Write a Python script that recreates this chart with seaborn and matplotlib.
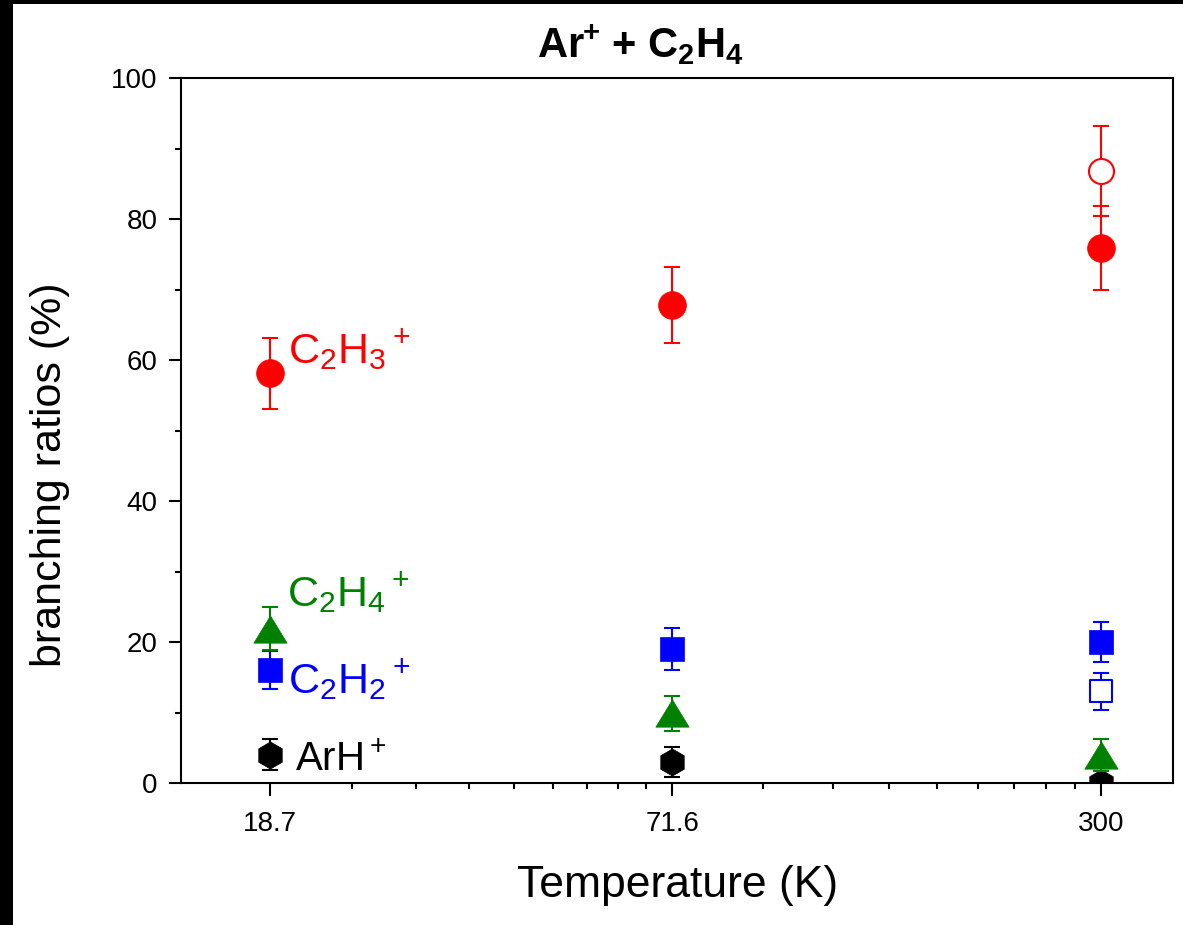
import numpy as np
import pandas as pd
import matplotlib
matplotlib.use('Agg')
import matplotlib.pyplot as plt
import seaborn as sns
from matplotlib.patches import Rectangle
from matplotlib.path import Path
from matplotlib.ticker import FixedLocator, FixedFormatter, NullFormatter

# ---------------- data ----------------
temps = [18.7, 71.6, 300]
temp_labels = ['18.7', '71.6', '300']

c2h3 = [58.1, 67.8, 75.9]
c2h3_err = [5.0, 5.4, 5.9]
c2h3_open_T = [300]
c2h3_open = [86.8]
c2h3_open_err = [6.4]

c2h2 = [16.0, 19.0, 20.0]
c2h2_err = [2.7, 3.0, 2.9]
c2h2_open_T = [300]
c2h2_open = [13.0]
c2h2_open_err = [2.6]

c2h4 = [21.9, 9.9, 4.0]
c2h4_err = [3.0, 2.5, 2.3]

arh = [4.0, 3.0, 0.0]
arh_err = [2.2, 2.1, 1.7]

yticks_major = [0, 20, 40, 60, 80, 100]
yticks_minor = [10, 30, 50, 70, 90]

# ---------------- style ----------------
sns.set_theme(style='white')
plt.rcParams['font.family'] = ['Liberation Sans', 'DejaVu Sans']
plt.rcParams['mathtext.fontset'] = 'custom'
plt.rcParams['mathtext.rm'] = 'Liberation Sans'
plt.rcParams['mathtext.it'] = 'Liberation Sans:italic'
plt.rcParams['mathtext.bf'] = 'Liberation Sans:bold'
plt.rcParams['mathtext.default'] = 'regular'

W, H = 1183, 925
fig = plt.figure(figsize=(W / 100, H / 100), dpi=100)
fig.patch.set_facecolor('white')
fig.add_artist(Rectangle((0, 0), 13 / W, 1, transform=fig.transFigure,
                         facecolor='black', edgecolor='none', zorder=-5))
fig.add_artist(Rectangle((0, 1 - 4 / H), 1, 4 / H, transform=fig.transFigure,
                         facecolor='black', edgecolor='none', zorder=-5))

ax = fig.add_axes([181 / W, 1 - 783 / H, (1173 - 181) / W, (783 - 78) / H])
ax.set_facecolor('white')
ax.set_xscale('log')

RED, BLUE, GREEN, BLACK = '#FF0000', '#0000FF', '#008000', '#000000'
tri = Path([(0, 0.82), (-1, -0.82), (1, -0.82), (0, 0.82)],
           [Path.MOVETO, Path.LINETO, Path.LINETO, Path.CLOSEPOLY])


def series(x, y, e, color, marker, ms, filled=True, z=3):
    ax.errorbar(x, y, yerr=e, fmt='none', ecolor=color, elinewidth=1.5,
                capsize=5.6, capthick=1.5, zorder=z)
    df = pd.DataFrame({'T': x, 'v': y})
    sns.scatterplot(data=df, x='T', y='v', ax=ax, marker=marker, s=ms ** 2,
                    color=color if filled else 'white', edgecolor=color,
                    linewidth=1.5 if not filled else 0.5, zorder=z + 0.5,
                    legend=False)


series(temps, arh, arh_err, BLACK, 'h', 19.5, z=3)
series(temps, c2h2, c2h2_err, BLUE, 's', 17, z=4)
series(c2h2_open_T, c2h2_open, c2h2_open_err, BLUE, 's', 16, filled=False, z=4)
series(temps, c2h4, c2h4_err, GREEN, tri, 24, z=5)
series(temps, c2h3, c2h3_err, RED, 'o', 20, z=6)
series(c2h3_open_T, c2h3_open, c2h3_open_err, RED, 'o', 18, filled=False, z=6)

ax.set_xlim(13.9, 381)
ax.set_ylim(0, 100)

# ticks
ax.xaxis.set_major_locator(FixedLocator(temps))
ax.xaxis.set_major_formatter(FixedFormatter(temp_labels))
minor = np.concatenate([np.linspace(temps[i], temps[i + 1], 10)[1:-1]
                        for i in range(len(temps) - 1)])
ax.xaxis.set_minor_locator(FixedLocator(minor))
ax.xaxis.set_minor_formatter(NullFormatter())
ax.set_yticks(yticks_major)
ax.set_yticks(yticks_minor, minor=True)

ax.tick_params(axis='both', which='major', direction='out', length=9, width=1.5,
               labelsize=20, color='black', labelcolor='black',
               bottom=True, left=True, top=False, right=False)
ax.tick_params(axis='both', which='minor', direction='out', length=4.5, width=1.5,
               color='black', bottom=True, left=True, top=False, right=False)
ax.tick_params(axis='y', which='major', pad=8)
ax.tick_params(axis='x', which='major', pad=11)
for s in ax.spines.values():
    s.set_visible(True)
    s.set_color('black')
    s.set_linewidth(1.5)
ax.set_xlabel('')
ax.set_ylabel('')

# labels on the data
ax.annotate(r'C$_2$H$_3$$^+$', xy=(temps[0], c2h3[0]), xytext=(13, 7),
            textcoords='offset points', color=RED, fontsize=31,
            ha='left', va='baseline')
ax.annotate(r'C$_2$H$_4$$^+$', xy=(temps[0], c2h4[0]), xytext=(12, 16),
            textcoords='offset points', color=GREEN, fontsize=31,
            ha='left', va='baseline')
ax.annotate(r'C$_2$H$_2$$^+$', xy=(temps[0], c2h2[0]), xytext=(13, -17),
            textcoords='offset points', color=BLUE, fontsize=31,
            ha='left', va='baseline')
ax.annotate(r'ArH$^+$', xy=(temps[0], arh[0]), xytext=(18, -12),
            textcoords='offset points', color=BLACK, fontsize=29,
            ha='left', va='baseline')

# titles
fig.text(640 / W, 1 - 58 / H, r'Ar$\!^+\,$+ C$_2$H$_4$', ha='center', va='baseline',
         fontsize=30, fontweight='bold', color='black')
fig.text(50 / W, 1 - 475 / H, 'branching ratios (%)', rotation=90,
         ha='center', va='center', fontsize=31, color='black')
fig.text(678 / W, 1 - 886 / H, 'Temperature (K)', ha='center', va='center',
         fontsize=32, color='black')

fig.savefig('out.png', dpi=100, facecolor=fig.get_facecolor())
